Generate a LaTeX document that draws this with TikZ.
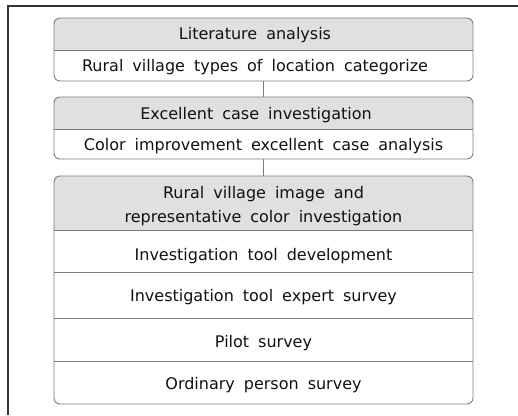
\documentclass[tikz,border=0pt]{standalone}
\usepackage{fontspec}
\setmainfont{DejaVu Sans}
\definecolor{hdrfill}{HTML}{E0E0E0}
\definecolor{edgegray}{HTML}{7A7A7A}
\definecolor{framegray}{HTML}{333333}
\definecolor{ink}{HTML}{111111}
\newcommand{\cellfont}{\fontsize{16}{24}\selectfont\spaceskip 9pt\relax}
\tikzset{
  cell/.style={rectangle, inner sep=0pt, outer sep=0pt, minimum width=419pt,
    text=ink, align=center, font=\cellfont},
  oneline/.style={text height=#1, text depth=4pt},
  boxline/.style={draw=edgegray, line width=0.9pt},
  link/.style={draw=edgegray, line width=1.2pt}
}
\begin{document}
\begin{tikzpicture}[x=1pt,y=1pt]
\useasboundingbox (0,0) rectangle (518,-415);
% outer frame (top and left only)
\draw[framegray, line width=2pt] (518,-5.5) -- (8,-5.5) -- (8,-415);

% header fills (drawn first, clipped to rounded outlines)
\begin{scope}
\clip[rounded corners=6pt] (54,-18) rectangle (473,-81);
\fill[hdrfill] (54,-18) rectangle (473,-50);
\end{scope}
\begin{scope}
\clip[rounded corners=6pt] (54,-97) rectangle (473,-159);
\fill[hdrfill] (54,-97) rectangle (473,-129);
\end{scope}
\begin{scope}
\clip[rounded corners=6pt] (54,-176) rectangle (473,-404);
\fill[hdrfill] (54,-176) rectangle (473,-230);
\end{scope}

% group 1
\node[cell, oneline=14pt, minimum height=32pt] (h1) at (263.5,-34) {Literature analysis\hspace{17pt}};
\node[cell, oneline=16pt, minimum height=31pt] (r1) at (263.5,-65.5) {Rural village types of location categorize\hspace{17pt}};
% group 2
\node[cell, oneline=16pt, minimum height=32pt] (h2) at (263.5,-113) {Excellent case investigation\hspace{15pt}};
\node[cell, oneline=16pt, minimum height=30pt] (r2) at (263.5,-144) {Color improvement excellent case analysis};
% group 3
\node[cell, minimum height=54pt] (h3) at (263.5,-203) {\rule{0pt}{19pt}Rural village image and\hspace{17pt}\\representative color investigation\hspace{12pt}};
\node[cell, oneline=22pt, minimum height=42pt] (r3a) at (263.5,-251) {Investigation tool development};
\node[cell, oneline=16pt, minimum height=46pt] (r3b) at (263.5,-295) {Investigation tool expert survey};
\node[cell, oneline=20pt, minimum height=43pt] (r3c) at (263.5,-339.5) {Pilot survey};
\node[cell, oneline=18pt, minimum height=43pt] (r3d) at (263.5,-382.5) {Ordinary person survey};

% outlines and dividers
\draw[boxline, rounded corners=6pt] (h1.north west) rectangle (r1.south east);
\draw[boxline] (h1.south west) -- (h1.south east);
\draw[boxline, rounded corners=6pt] (h2.north west) rectangle (r2.south east);
\draw[boxline] (h2.south west) -- (h2.south east);
\draw[boxline, rounded corners=6pt] (h3.north west) rectangle (r3d.south east);
\draw[boxline] (h3.south west) -- (h3.south east);
\draw[boxline] (r3a.south west) -- (r3a.south east);
\draw[boxline] (r3b.south west) -- (r3b.south east);
\draw[boxline] (r3c.south west) -- (r3c.south east);

% connectors
\draw[link] (r1.south) -- (h2.north);
\draw[link] (r2.south) -- (h3.north);
\end{tikzpicture}
\end{document}
